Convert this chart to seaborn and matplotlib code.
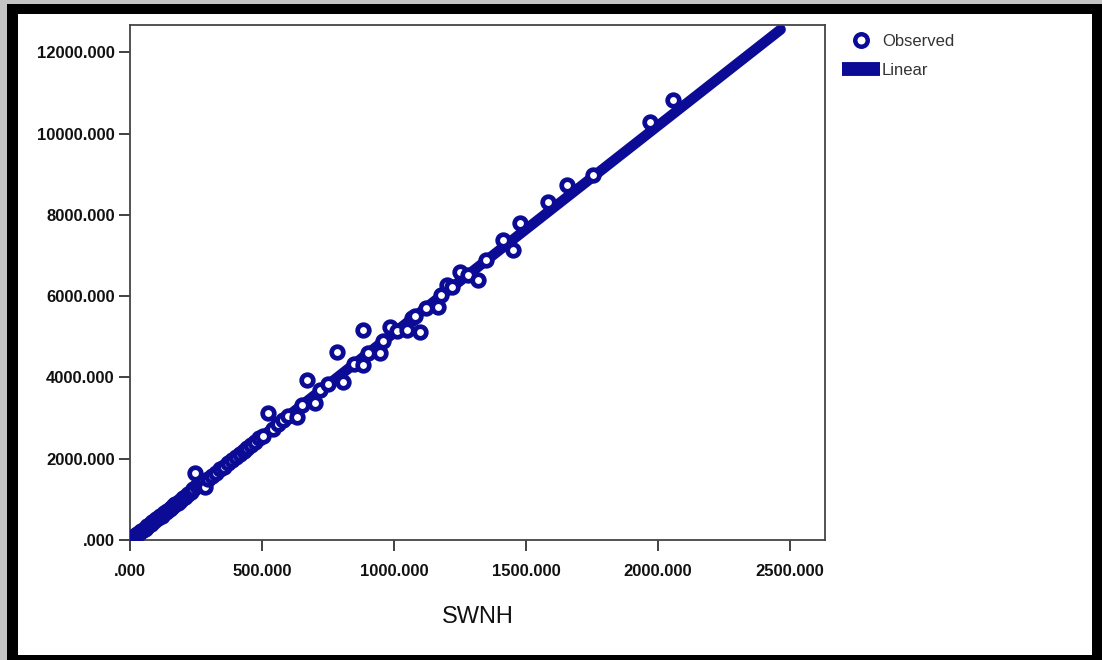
import numpy as np
import pandas as pd
import matplotlib
matplotlib.use("Agg")
import matplotlib.pyplot as plt
from matplotlib.patches import Rectangle
from matplotlib.lines import Line2D
from matplotlib.ticker import FuncFormatter
import seaborn as sns

swnh = [8, 12, 18, 22, 28, 33, 38, 42, 48, 55, 60, 66, 72, 78, 85, 92, 98, 105,
        112, 120, 128, 135, 142, 150, 158, 165, 172, 180, 190, 200, 210, 220,
        232, 240, 246, 255, 265, 275, 284, 295, 310, 325, 340, 355, 370, 385,
        400, 415, 430, 445, 460, 475, 490, 505, 523, 540, 560, 580, 600, 633,
        650, 670, 701, 720, 750, 784, 807, 850, 883, 883, 900, 947, 960, 985,
        1010, 1049, 1068, 1080, 1098, 1120, 1167, 1180, 1201, 1220, 1250,
        1280, 1318, 1350, 1413, 1451, 1477, 1583, 1655, 1754, 1970, 2057]
response = [30, 70, 90, 120, 140, 170, 190, 230, 240, 280, 300, 350, 370, 390,
            440, 470, 520, 540, 580, 600, 660, 690, 720, 770, 800, 850, 880,
            920, 960, 1030, 1060, 1130, 1190, 1250, 1650, 1320, 1360, 1420,
            1300, 1500, 1580, 1640, 1740, 1800, 1900, 1960, 2050, 2110, 2200,
            2270, 2340, 2420, 2500, 2560, 3124, 2740, 2850, 2960, 3060, 3026,
            3320, 3936, 3370, 3680, 3830, 4625, 3887, 4330, 4305, 5166, 4590,
            4600, 4900, 5240, 5150, 5166, 5461, 5510, 5117, 5700, 5732, 6020,
            6273, 6220, 6593, 6530, 6396, 6890, 7380, 7134, 7798, 8315, 8733,
            8979, 10283, 10824]

# linear fit: intercept, slope and plotted range
fit_intercept = 0.0
fit_slope = 5.095
fit_range = [0, 2465]

obs = pd.DataFrame({"SWNH": swnh, "y": response})
fit = pd.DataFrame({"SWNH": fit_range})
fit["y"] = fit_intercept + fit_slope * fit["SWNH"]

blue = "#0b0b96"

sns.set_theme(style="white")
plt.rcParams["font.family"] = ["Liberation Sans", "DejaVu Sans"]

fig = plt.figure(figsize=(11.02, 6.6), dpi=100)
fig.patch.set_facecolor("#c4c4c4")
W, H = 1102, 660
fig.add_artist(Rectangle((7 / W, 0), 1 - 7 / W, 1 - 4 / H, transform=fig.transFigure,
                         facecolor="black", edgecolor="none", zorder=-2))
fig.add_artist(Rectangle((18 / W, 5 / H), (1092 - 18) / W, (646 - 5) / H,
                         transform=fig.transFigure, facecolor="white",
                         edgecolor="none", zorder=-1))

ax = fig.add_axes([130 / W, 1 - 540 / H, (825 - 130) / W, (540 - 25) / H])
ax.set_facecolor("white")

sns.lineplot(data=fit, x="SWNH", y="y", ax=ax, color=blue, linewidth=7.5,
             solid_capstyle="round", zorder=2)
sns.scatterplot(data=obs, x="SWNH", y="y", ax=ax, marker="o", s=70,
                facecolor="white", edgecolor=blue, linewidth=3.4, zorder=3)

ax.set_xlim(0, 2633)
ax.set_ylim(0, 12670)
ax.set_xticks([0, 500, 1000, 1500, 2000, 2500])
ax.set_yticks([0, 2000, 4000, 6000, 8000, 10000, 12000])
fmt = FuncFormatter(lambda v, p: ".000" if v == 0 else f"{v:.3f}")
ax.xaxis.set_major_formatter(fmt)
ax.yaxis.set_major_formatter(fmt)
ax.tick_params(axis="both", direction="out", length=8, width=1.3, color="#333333",
               labelsize=12, labelcolor="#111111", pad=3, bottom=True, left=True)
ax.tick_params(axis="x", pad=9)
for lab in ax.get_xticklabels() + ax.get_yticklabels():
    lab.set_fontweight("bold")
for sp in ax.spines.values():
    sp.set_color("#444444")
    sp.set_linewidth(1.3)

ax.set_xlabel("SWNH", fontsize=17, color="#111111", labelpad=20)
ax.set_ylabel("")

handles = [
    Line2D([], [], marker="o", linestyle="none", markersize=9,
           markerfacecolor="white", markeredgecolor=blue, markeredgewidth=3.2),
    Line2D([], [], color=blue, linewidth=10, solid_capstyle="butt"),
]
leg = ax.legend(handles, ["Observed", "Linear"], loc="upper left",
                bbox_to_anchor=(1.015, 0.995), frameon=False, fontsize=12,
                handlelength=2.3, handletextpad=0.1, labelspacing=0.8,
                borderaxespad=0)
for t in leg.get_texts():
    t.set_color("#333333")

fig.savefig("out.png", dpi=100, facecolor=fig.get_facecolor())
